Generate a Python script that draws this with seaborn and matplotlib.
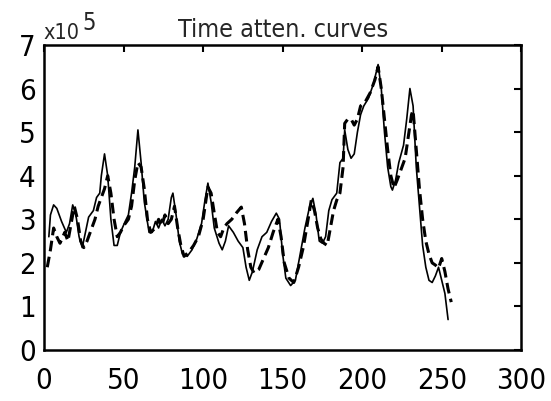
import numpy as np
import pandas as pd
import matplotlib
matplotlib.use("Agg")
import matplotlib.pyplot as plt
import seaborn as sns
from matplotlib.ticker import FuncFormatter

# curve values, y in units of 1e5
solid_x = [3, 4, 6, 8, 11, 14, 16, 18, 20, 22, 24, 26, 28, 31, 33, 35, 36, 38, 40, 42, 44, 46, 48, 51, 53, 55, 57, 59, 61, 63,
           66, 68, 70, 72, 74, 76, 78, 80, 81, 83, 85, 87, 90, 93, 96, 99, 101, 103, 105, 107, 110, 112, 114, 116, 119, 122,
           125, 127, 129, 131, 134, 137, 140, 143, 146, 148, 150, 152, 155, 158, 161, 164, 167, 169, 171, 173, 175, 177, 179,
           181, 184, 186, 188, 189, 191, 193, 195, 197, 199, 201, 204, 207, 210, 212, 214, 216, 218, 219, 221, 223, 226, 228,
           230, 232, 234, 236, 238, 240, 242, 244, 246, 248, 250, 252, 254]
solid_y = [2.6, 3.1, 3.33, 3.25, 2.95, 2.7, 2.9, 3.33, 3.1, 2.6, 2.35, 2.7, 3.05, 3.2, 3.5, 3.6, 4.0, 4.5, 4.0, 3.0, 2.4, 2.4, 2.7,
           2.95, 3.1, 3.6, 4.2, 5.05, 4.3, 3.4, 2.7, 2.7, 2.95, 2.8, 3.0, 2.85, 3.0, 3.5, 3.6, 3.1, 2.5, 2.2, 2.15, 2.3, 2.55,
           2.9, 3.4, 3.83, 3.4, 2.8, 2.45, 2.3, 2.5, 2.85, 2.7, 2.5, 2.35, 1.9, 1.6, 1.8, 2.3, 2.6, 2.7, 2.95, 3.14, 3.0, 2.2,
           1.65, 1.48, 1.6, 2.2, 2.8, 3.3, 3.48, 3.1, 2.5, 2.45, 2.6, 3.2, 3.45, 3.6, 4.3, 4.4, 5.05, 4.6, 4.4, 4.5, 5.0, 5.4,
           5.6, 5.78, 6.1, 6.55, 6.0, 5.0, 4.2, 3.75, 3.67, 3.9, 4.3, 4.7, 5.3, 6.0, 5.6, 4.2, 3.3, 2.4, 1.9, 1.6, 1.55, 1.7,
           1.9, 1.6, 1.3, 0.7]

dashed_x = [2, 4, 6, 8, 10, 13, 15, 17, 19, 21, 23, 25, 27, 30, 32, 34, 36, 38, 40, 42, 44, 46, 48, 50, 53, 55, 57, 59, 61, 63,
            65, 67, 70, 72, 74, 76, 78, 80, 82, 84, 86, 88, 91, 94, 97, 100, 103, 105, 107, 109, 111, 113, 115, 118, 121, 124,
            126, 128, 130, 132, 135, 138, 141, 144, 147, 149, 151, 154, 157, 160, 163, 166, 168, 170, 172, 174, 176, 178, 180,
            182, 184, 186, 188, 189, 191, 193, 195, 197, 199, 202, 205, 208, 210, 212, 214, 216, 218, 220, 222, 225, 227, 229,
            231, 232, 234, 236, 238, 240, 242, 244, 246, 248, 250, 252, 254, 256]
dashed_y = [1.9, 2.3, 2.8, 2.6, 2.45, 2.7, 2.5, 2.9, 3.3, 3.0, 2.5, 2.35, 2.5, 2.8, 3.0, 3.3, 3.5, 3.7, 4.0, 3.6, 3.0, 2.6, 2.7,
            2.85, 3.0, 3.3, 3.9, 4.3, 4.2, 3.7, 3.0, 2.7, 2.8, 3.0, 2.85, 3.1, 2.9, 3.0, 3.3, 2.8, 2.4, 2.15, 2.25, 2.4, 2.6,
            3.0, 3.74, 3.6, 3.14, 2.7, 2.6, 2.8, 2.9, 3.0, 3.15, 3.28, 2.9, 2.3, 1.9, 1.77, 1.85, 2.1, 2.35, 2.7, 3.0, 2.6, 2.0,
            1.65, 1.55, 1.9, 2.36, 3.0, 3.44, 3.2, 2.8, 2.55, 2.45, 2.4, 2.8, 3.2, 3.44, 3.6, 4.2, 5.2, 5.3, 5.3, 5.16, 5.3, 5.6,
            5.7, 5.9, 6.2, 6.5, 6.0, 5.3, 4.6, 4.0, 3.72, 3.9, 4.2, 4.4, 4.9, 5.4, 5.5, 4.6, 3.7, 3.0, 2.5, 2.2, 2.0, 1.95,
            1.88, 2.1, 1.8, 1.4, 1.1]

x_ticks = [0, 50, 100, 150, 200, 250, 300]
y_ticks = [0, 1, 2, 3, 4, 5, 6, 7]
title = "Time atten. curves"

sns.set_theme(style="white")
plt.rcParams['font.family'] = ['DejaVu Sans']
plt.rcParams['font.stretch'] = 'condensed'

fig = plt.figure(figsize=(5.51, 4.01), dpi=100)
ax = fig.add_axes([0.080, 0.127, 0.866, 0.761])

solid = pd.DataFrame({"x": solid_x, "y": np.array(solid_y) * 1e5})
dashed = pd.DataFrame({"x": dashed_x, "y": np.array(dashed_y) * 1e5})

sns.lineplot(data=solid, x="x", y="y", ax=ax, color="black", linewidth=1.2, sort=False)
sns.lineplot(data=dashed, x="x", y="y", ax=ax, color="black", linewidth=2.2, sort=False,
             linestyle=(0, (3.5, 1.8)))

ax.set_xlim(0, 300)
ax.set_ylim(0, 7e5)
ax.set_xticks(x_ticks)
ax.set_yticks([v * 1e5 for v in y_ticks])
ax.yaxis.set_major_formatter(FuncFormatter(lambda v, p: f"{v / 1e5:.0f}"))
ax.set_xlabel("")
ax.set_ylabel("")
ax.tick_params(direction="in", length=5, width=1.5, labelsize=21, colors="black",
               top=True, right=True)
ax.tick_params(axis="y", pad=6)
ax.tick_params(axis="x", pad=12)
for s in ax.spines.values():
    s.set_color("black")
    s.set_linewidth(1.8)

ax.set_title(title, fontsize=18, pad=6)
# axis multiplier drawn like the original: "x10" with a raised "5"
ax.text(-0.002, 1.02, "x10", transform=ax.transAxes, fontsize=15.5, ha="left", va="baseline")
ax.text(0.08, 1.05, "5", transform=ax.transAxes, fontsize=17, ha="left", va="baseline")

fig.savefig("out.png", dpi=100)
